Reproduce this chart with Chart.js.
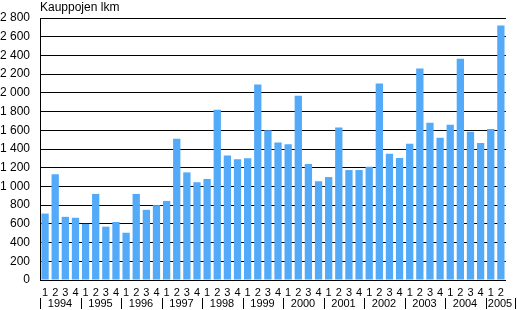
<!DOCTYPE html>
<html>
<head>
<meta charset="utf-8">
<script src="https://cdn.jsdelivr.net/npm/chart.js@4"></script>
<style>
  html, body { margin: 0; padding: 0; background: #fff; }
  #wrap { width: 517px; height: 310px; }
</style>
</head>
<body>
<div id="wrap"><canvas id="chart" width="517" height="310"></canvas></div>
<script>
// Kauppojen lukumäärä neljännesvuosittain 1994 Q1 - 2005 Q2
const years = ['1994', '1995', '1996', '1997', '1998', '1999', '2000', '2001', '2002', '2003', '2004', '2005'];
const quarters = [
  '1', '2', '3', '4', '1', '2', '3', '4', '1', '2', '3', '4',
  '1', '2', '3', '4', '1', '2', '3', '4', '1', '2', '3', '4',
  '1', '2', '3', '4', '1', '2', '3', '4', '1', '2', '3', '4',
  '1', '2', '3', '4', '1', '2', '3', '4', '1', '2'
];
const sales = [
  710, 1130, 675, 665,    // 1994
  600, 920, 570, 620,     // 1995
  505, 920, 750, 800,     // 1996
  845, 1510, 1150, 1045,  // 1997
  1080, 1820, 1330, 1290, // 1998
  1300, 2090, 1600, 1470, // 1999
  1450, 1970, 1240, 1055, // 2000
  1100, 1630, 1175, 1175, // 2001
  1210, 2100, 1350, 1305, // 2002
  1455, 2260, 1680, 1520, // 2003
  1660, 2365, 1585, 1465, // 2004
  1615, 2720              // 2005
];
const yTitle = 'Kauppojen lkm';

const FONT = '"Liberation Sans", Arial, sans-serif';

function fmt(v) {
  if (v < 1000) return String(v);
  const t = Math.floor(v / 1000);
  const r = String(v % 1000).padStart(3, '0');
  return t + ' ' + r;
}

// otsikko ja vuosirivi
const extras = {
  id: 'extras',
  afterDraw(chart) {
    const ctx = chart.ctx;
    const x = chart.scales.x;
    const half = (x.getPixelForValue(1) - x.getPixelForValue(0)) / 2;
    ctx.save();
    ctx.fillStyle = '#000';
    ctx.font = '12px ' + FONT;
    ctx.textBaseline = 'middle';
    ctx.textAlign = 'left';
    ctx.fillText(yTitle, chart.chartArea.left, 8);

    ctx.font = '11px ' + FONT;
    ctx.textAlign = 'center';
    ctx.strokeStyle = '#000';
    ctx.lineWidth = 1;
    const endX = chart.width - 1.5;
    const seps = years.map((yr, i) => Math.round(x.getPixelForValue(i * 4) - half) + 0.5);
    seps.push(endX);
    seps.forEach(sx => {
      ctx.beginPath();
      ctx.moveTo(sx, 298);
      ctx.lineTo(sx, 309);
      ctx.stroke();
    });
    years.forEach((yr, i) => {
      ctx.fillText(yr, (seps[i] + seps[i + 1]) / 2 - 1, 304);
    });
    ctx.restore();
  }
};

const ctx = document.getElementById('chart').getContext('2d');
const chart = new Chart(ctx, {
  type: 'bar',
  data: {
    labels: quarters,
    datasets: [{
      data: sales,
      backgroundColor: '#52aaf8',
      borderWidth: 0,
      barPercentage: 0.72,
      categoryPercentage: 1.0
    }]
  },
  options: {
    responsive: false,
    animation: false,
    devicePixelRatio: 1,
    layout: { padding: { top: 18, left: 0, right: 0, bottom: 0 } },
    plugins: {
      legend: { display: false },
      tooltip: { enabled: false }
    },
    scales: {
      x: {
        afterDataLimits: s => { s.max = s.max + 1; },
        afterFit: s => { s.height = 30; },
        grid: { display: false, drawTicks: false },
        border: { display: true, color: '#000', width: 1 },
        ticks: {
          autoSkip: false,
          maxRotation: 0,
          minRotation: 0,
          padding: 6,
          color: '#000',
          font: { family: FONT, size: 11 },
          callback: v => quarters[v] || ''
        }
      },
      y: {
        min: 0,
        max: 2800,
        afterFit: s => { s.width = 40; },
        grid: { color: '#000', drawTicks: false, lineWidth: 1 },
        border: { display: true, color: '#000', width: 1 },
        ticks: {
          stepSize: 200,
          padding: 10,
          color: '#000',
          font: { family: FONT, size: 12 },
          callback: v => fmt(v)
        }
      }
    }
  },
  plugins: [extras]
});
</script>
</body>
</html>
